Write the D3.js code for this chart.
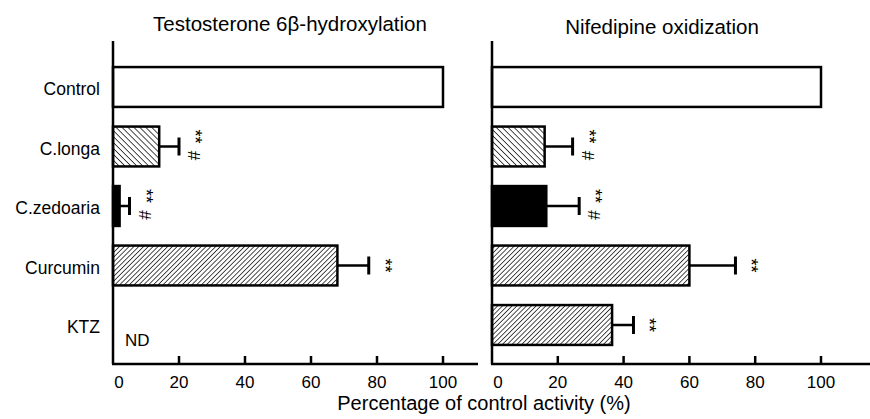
<!DOCTYPE html>
<html>
<head>
<meta charset="utf-8">
<script src="https://cdn.jsdelivr.net/npm/d3@7"></script>
<style>
body { margin: 0; background: #fff; }
text { font-family: "Liberation Sans", Arial, sans-serif; fill: #000; }
</style>
</head>
<body>
<svg id="chart" width="870" height="419"></svg>
<script>
"use strict";
var categories = ["Control", "C.longa", "C.zedoaria", "Curcumin", "KTZ"];
var fillKind = ["white", "back", "solid", "fwd", "fwd"];
// testosterone 6b-hydroxylation (KTZ not detected)
var testoMean = [100, 14, 2, 68, null];
var testoErr = [0, 6, 3, 9.5, null];
var testoSig = ["", "**#", "**#", "**", ""];
// nifedipine oxidization
var nifeMean = [100, 16, 16.5, 60, 36.5];
var nifeErr = [0, 8.5, 10, 14, 6.5];
var nifeSig = ["", "**#", "**#", "**", "**"];
var ticks = [0, 20, 40, 60, 80, 100];

var svg = d3.select("#chart");
var yTop = 41, yBase = 364;

// hatch patterns
var defs = svg.append("defs");
function hatch(id, angle, gap) {
	var p = defs.append("pattern")
		.attr("id", id)
		.attr("patternUnits", "userSpaceOnUse")
		.attr("width", gap).attr("height", gap)
		.attr("patternTransform", "rotate(" + angle + ")");
	p.append("rect").attr("width", gap).attr("height", gap).attr("fill", "white");
	p.append("line").attr("x1", 0).attr("y1", 0).attr("x2", 0).attr("y2", gap)
		.attr("stroke", "black").attr("stroke-width", 1.4);
}
hatch("back", -45, 4.2);
hatch("fwd", 45, 3.4);
function fillOf(k) {
	if (k == "white") return "white";
	if (k == "solid") return "black";
	return "url(#" + k + ")";
}

var y = d3.scaleBand().domain(categories).range([57.25, 354.75]).paddingInner(0.33).paddingOuter(0.165);

function panel(x0, x100, axisEnd, means, errs, sigs, title, titleX, titleY) {
	var x = d3.scaleLinear().domain([0, 100]).range([x0, x100]);
	var g = svg.append("g");

	g.append("text").attr("x", titleX).attr("y", titleY)
		.attr("text-anchor", "middle").attr("font-size", 20.5)
		.text(title);

	// bars
	var rows = categories.map(function(c, i) {
		return {c: c, m: means[i], e: errs[i], s: sigs[i], f: fillKind[i]};
	}).filter(function(d) { return d.m != null; });

	g.selectAll("rect.bar").data(rows).enter().append("rect")
		.attr("class", "bar")
		.attr("x", x(0))
		.attr("y", function(d) { return y(d.c); })
		.attr("width", function(d) { return x(d.m) - x(0); })
		.attr("height", y.bandwidth())
		.attr("fill", function(d) { return fillOf(d.f); })
		.attr("stroke", "black").attr("stroke-width", 2.5);

	// error bars
	var eb = rows.filter(function(d) { return d.e > 0; });
	g.selectAll("line.err").data(eb).enter().append("line")
		.attr("x1", function(d) { return x(d.m); })
		.attr("x2", function(d) { return x(d.m + d.e); })
		.attr("y1", function(d) { return y(d.c) + y.bandwidth() / 2; })
		.attr("y2", function(d) { return y(d.c) + y.bandwidth() / 2; })
		.attr("stroke", "black").attr("stroke-width", 2.5);
	g.selectAll("line.cap").data(eb).enter().append("line")
		.attr("x1", function(d) { return x(d.m + d.e); })
		.attr("x2", function(d) { return x(d.m + d.e); })
		.attr("y1", function(d) { return y(d.c) + y.bandwidth() / 2 - 9; })
		.attr("y2", function(d) { return y(d.c) + y.bandwidth() / 2 + 9; })
		.attr("stroke", "black").attr("stroke-width", 3);

	// significance marks, rotated
	rows.forEach(function(d) {
		if (!d.s) return;
		var sx = x(d.m + d.e) + 10;
		var cy = y(d.c) + y.bandwidth() / 2;
		var hasHash = d.s.indexOf("#") >= 0;
		var starY = hasHash ? cy - 10 : cy;
		g.append("text")
			.attr("transform", "translate(" + sx + "," + starY + ") rotate(90)")
			.attr("text-anchor", "middle").attr("font-size", 18)
			.text("**");
		if (hasHash) {
			g.append("text")
				.attr("transform", "translate(" + (sx - 1) + "," + (cy + 9) + ") rotate(90)")
				.attr("text-anchor", "middle").attr("font-size", 17)
				.text("#");
		}
	});

	// axes
	g.append("line").attr("x1", x0).attr("x2", x0).attr("y1", yTop).attr("y2", yBase)
		.attr("stroke", "black").attr("stroke-width", 2.5);
	g.append("line").attr("x1", x0 - 1).attr("x2", axisEnd).attr("y1", yBase).attr("y2", yBase)
		.attr("stroke", "black").attr("stroke-width", 2.5);
	g.selectAll("line.tick").data(ticks.filter(function(t) { return t > 0; })).enter().append("line")
		.attr("x1", function(t) { return x(t); }).attr("x2", function(t) { return x(t); })
		.attr("y1", yBase - 8).attr("y2", yBase)
		.attr("stroke", "black").attr("stroke-width", 2.5);
	g.selectAll("text.tl").data(ticks).enter().append("text")
		.attr("x", function(t) { return t == 0 ? x(t) + 6 : x(t); })
		.attr("y", 388)
		.attr("text-anchor", "middle").attr("font-size", 17)
		.text(function(t) { return t; });
	return x;
}

var xl = panel(113, 443, 478, testoMean, testoErr, testoSig, "Testosterone 6\u03b2-hydroxylation", 290, 31);
panel(492, 821, 870, nifeMean, nifeErr, nifeSig, "Nifedipine oxidization", 662, 34);

// ND label for KTZ in left panel
svg.append("text").attr("x", xl(0) + 12).attr("y", 346)
	.attr("font-size", 17).text("ND");

// category labels
svg.selectAll("text.cat").data(categories).enter().append("text")
	.attr("x", 100)
	.attr("y", function(d) { return y(d) + y.bandwidth() / 2 + 8; })
	.attr("text-anchor", "end").attr("font-size", 17.5)
	.text(function(d) { return d; });

svg.append("text").attr("x", 484).attr("y", 410)
	.attr("text-anchor", "middle").attr("font-size", 20)
	.text("Percentage of control activity (%)");
</script>
</body>
</html>
